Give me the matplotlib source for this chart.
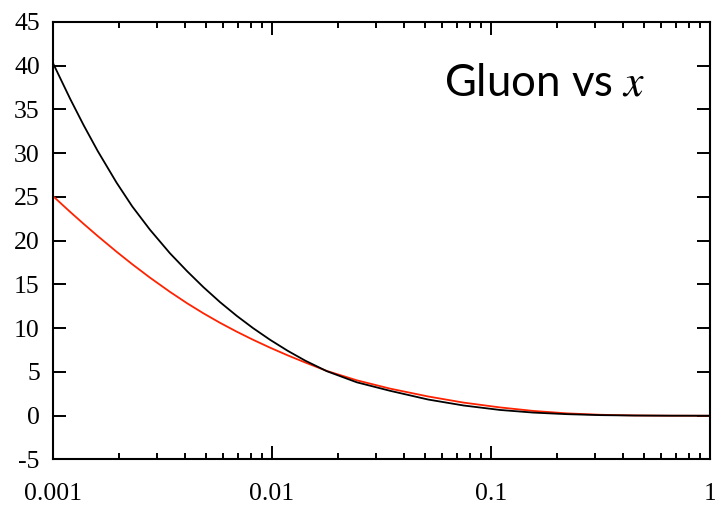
import numpy as np
import matplotlib
matplotlib.use("Agg")
import matplotlib.pyplot as plt
from matplotlib.ticker import LogLocator, NullFormatter

plt.rcParams['axes.unicode_minus'] = False
plt.rcParams['mathtext.fontset'] = 'stix'

# gluon distributions sampled along x
x_vals = [0.001, 0.0012, 0.00138, 0.0016, 0.00195, 0.0023, 0.00277, 0.00342,
          0.0041, 0.00486, 0.0058, 0.0069, 0.0082, 0.0098, 0.0118, 0.0142,
          0.0178, 0.0244, 0.0346, 0.0517, 0.075, 0.11, 0.156, 0.222,
          0.316, 0.45, 0.65, 1.0]
gluon_black = [40.3, 36.18, 33.21, 30.26, 26.65, 23.93, 21.27, 18.57,
               16.51, 14.70, 12.97, 11.42, 10.01, 8.68, 7.42, 6.29,
               5.09, 3.82, 2.85, 1.85, 1.17, 0.66, 0.36, 0.18,
               0.07, 0.024, 0.005, 0.0]
gluon_red = [25.1, 23.28, 21.93, 20.54, 18.75, 17.32, 15.79, 14.16,
             12.85, 11.71, 10.61, 9.61, 8.68, 7.78, 6.90, 6.08,
             5.12, 4.05, 3.1, 2.2, 1.5, 0.95, 0.55, 0.27,
             0.11, 0.035, 0.006, 0.0]

x_ticks = [0.001, 0.01, 0.1, 1]
x_tick_labels = ["0.001", "0.01", "0.1", "1"]
y_ticks = list(range(-5, 50, 5))

fig = plt.figure(figsize=(7.15, 5.08), dpi=100)
ax = fig.add_axes([0.0741, 0.0955, 0.9189, 0.8612])

ax.plot(x_vals, gluon_red, color='#ff2200', lw=1.3)
ax.plot(x_vals, gluon_black, color='black', lw=1.3)

ax.set_xscale('log')
ax.set_xlim(0.001, 1)
ax.set_ylim(-5, 45)
ax.set_xticks(x_ticks)
ax.set_xticklabels(x_tick_labels)
ax.xaxis.set_minor_locator(LogLocator(base=10, subs=np.arange(2, 10), numticks=20))
ax.xaxis.set_minor_formatter(NullFormatter())
ax.set_yticks(y_ticks)

for s in ax.spines.values():
    s.set_linewidth(1.5)

ax.tick_params(which='both', direction='in', top=True, right=True, width=1.4,
               labelsize=18.5, labelfontfamily='Liberation Serif')
ax.tick_params(which='major', length=9.5)
ax.tick_params(which='minor', length=4.5)
ax.tick_params(axis='x', which='major', pad=17)
ax.tick_params(axis='y', which='major', pad=9.5)

ax.text(0.901, 0.833, "Gluon vs $x$", transform=ax.transAxes,
        ha='right', va='baseline', fontsize=31.5, family='Lato')

fig.savefig("out.png", dpi=100)
